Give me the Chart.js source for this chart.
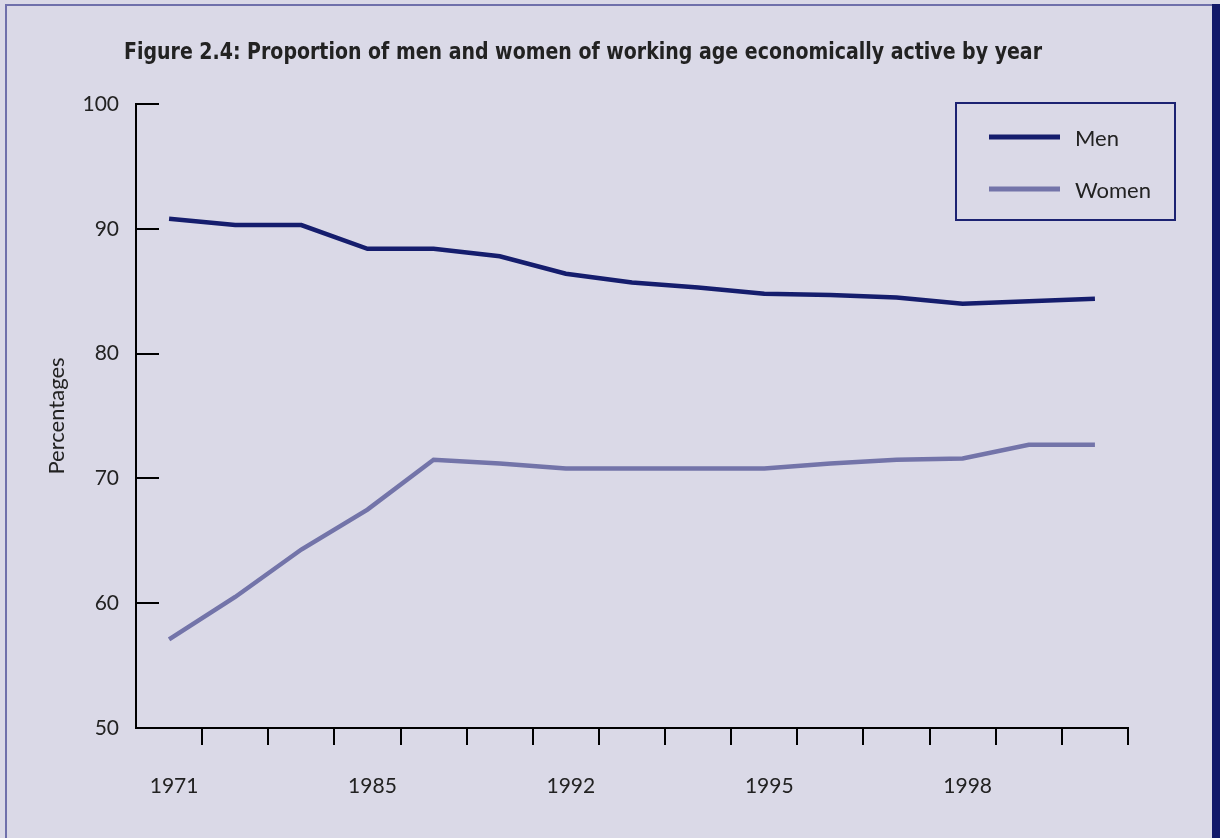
<!DOCTYPE html>
<html>
<head>
<meta charset="utf-8">
<title>Figure 2.4</title>
<script src="https://cdn.jsdelivr.net/npm/chart.js@4.4.1/dist/chart.umd.min.js"></script>
<style>
  html, body { margin: 0; padding: 0; background: #dad9e7; overflow: hidden; }
  canvas { position: absolute; left: 0; top: 0; }
</style>
</head>
<body>
<canvas id="activityChart" width="1220" height="838"></canvas>
<script>
const titleText = "Figure 2.4: Proportion of men and women of working age economically active by year";
const years = ["1971", "", "", "1985", "", "", "1992", "", "", "1995", "", "", "1998", "", ""];
const menValues = [90.8, 90.3, 90.3, 88.4, 88.4, 87.8, 86.4, 85.7, 85.3, 84.8, 84.7, 84.5, 84.0, 84.2, 84.4];
const womenValues = [57.1, 60.5, 64.3, 67.5, 71.5, 71.2, 70.8, 70.8, 70.8, 70.8, 71.2, 71.5, 71.6, 72.7, 72.7];
const yMin = 50;
const yMax = 100;
const yStep = 10;

const menColor = "#151d6d";
const womenColor = "#7374a9";
const textColor = "#222";
const labelFont = { family: "Lato, 'Open Sans', sans-serif", size: 21 };
const titleFont = { family: "'Liberation Sans Narrow', 'DejaVu Sans Condensed', 'DejaVu Sans', sans-serif", size: 23 };

// page frame: light edge top/left, dark edge right
const pageFrame = {
  id: "pageFrame",
  beforeDraw(chart) {
    const ctx = chart.ctx;
    ctx.save();
    ctx.fillStyle = "#dad9e7";
    ctx.fillRect(0, 0, chart.width, chart.height);
    ctx.fillStyle = "#6f70ab";
    ctx.fillRect(5, 4, 2, chart.height);
    ctx.fillRect(5, 4, 1208, 2);
    ctx.fillStyle = "#131a6a";
    ctx.fillRect(1212, 4, chart.width - 1212, chart.height);
    ctx.restore();
  }
};

// title, inward value ticks and the boxed legend
const figureDecor = {
  id: "figureDecor",
  afterDraw(chart) {
    const ctx = chart.ctx;
    const area = chart.chartArea;
    const yScale = chart.scales.y;
    ctx.save();

    ctx.strokeStyle = "#000";
    ctx.lineWidth = 2;
    yScale.ticks.forEach(function (t) {
      const py = Math.round(yScale.getPixelForValue(t.value));
      ctx.beginPath();
      ctx.moveTo(area.left, py);
      ctx.lineTo(area.left + 23, py);
      ctx.stroke();
    });

    // condensed bold heading, squeezed to its column width
    ctx.fillStyle = textColor;
    ctx.font = "bold " + titleFont.size + "px " + titleFont.family;
    ctx.textAlign = "left";
    ctx.textBaseline = "middle";
    const tw = ctx.measureText(titleText).width;
    const sx = Math.min(1, 918 / tw);
    ctx.save();
    ctx.translate(124, 53);
    ctx.scale(sx, 1);
    ctx.fillText(titleText, 0, 0);
    ctx.restore();

    // legend
    const box = { x: 956, y: 103, w: 219, h: 117 };
    ctx.strokeStyle = "#1c2272";
    ctx.lineWidth = 2;
    ctx.strokeRect(box.x, box.y, box.w, box.h);
    ctx.font = "22px " + labelFont.family;
    chart.data.datasets.forEach(function (ds, i) {
      const ly = 137 + i * 52;
      ctx.strokeStyle = ds.borderColor;
      ctx.lineWidth = 5;
      ctx.beginPath();
      ctx.moveTo(989, ly);
      ctx.lineTo(1060, ly);
      ctx.stroke();
      ctx.fillStyle = textColor;
      ctx.fillText(ds.label, 1075, ly + 2);
    });

    ctx.restore();
  }
};

const ctx = document.getElementById("activityChart").getContext("2d");
const chart = new Chart(ctx, {
  type: "line",
  data: {
    labels: years,
    datasets: [
      {
        label: "Men",
        data: menValues,
        borderColor: menColor,
        borderWidth: 4.5,
        pointRadius: 0,
        tension: 0,
        fill: false
      },
      {
        label: "Women",
        data: womenValues,
        borderColor: womenColor,
        borderWidth: 4.5,
        pointRadius: 0,
        tension: 0,
        fill: false
      }
    ]
  },
  options: {
    responsive: false,
    animation: false,
    devicePixelRatio: 1,
    layout: { padding: { top: 104, right: 92, left: 0, bottom: 0 } },
    plugins: {
      legend: { display: false },
      tooltip: { enabled: false },
      title: { display: false }
    },
    scales: {
      x: {
        type: "category",
        offset: true,
        border: { display: true, color: "#000", width: 2 },
        grid: {
          offset: true,
          drawOnChartArea: false,
          drawTicks: true,
          tickLength: 17,
          lineWidth: 2,
          color: function (c) { return c.index === 0 ? "rgba(0,0,0,0)" : "#000"; }
        },
        ticks: {
          autoSkip: false,
          maxRotation: 0,
          padding: 29,
          labelOffset: 5,
          color: textColor,
          font: labelFont
        },
        afterFit: function (scale) { scale.height = 110; }
      },
      y: {
        min: yMin,
        max: yMax,
        border: { display: true, color: "#000", width: 2 },
        grid: { drawOnChartArea: false, drawTicks: false },
        ticks: {
          stepSize: yStep,
          padding: 17,
          color: textColor,
          font: labelFont
        },
        title: {
          display: true,
          text: "Percentages",
          color: textColor,
          font: { family: labelFont.family, size: 22 },
          padding: { top: 44, bottom: 0 }
        },
        afterFit: function (scale) { scale.width = 136; }
      }
    }
  },
  plugins: [pageFrame, figureDecor]
});
</script>
</body>
</html>
